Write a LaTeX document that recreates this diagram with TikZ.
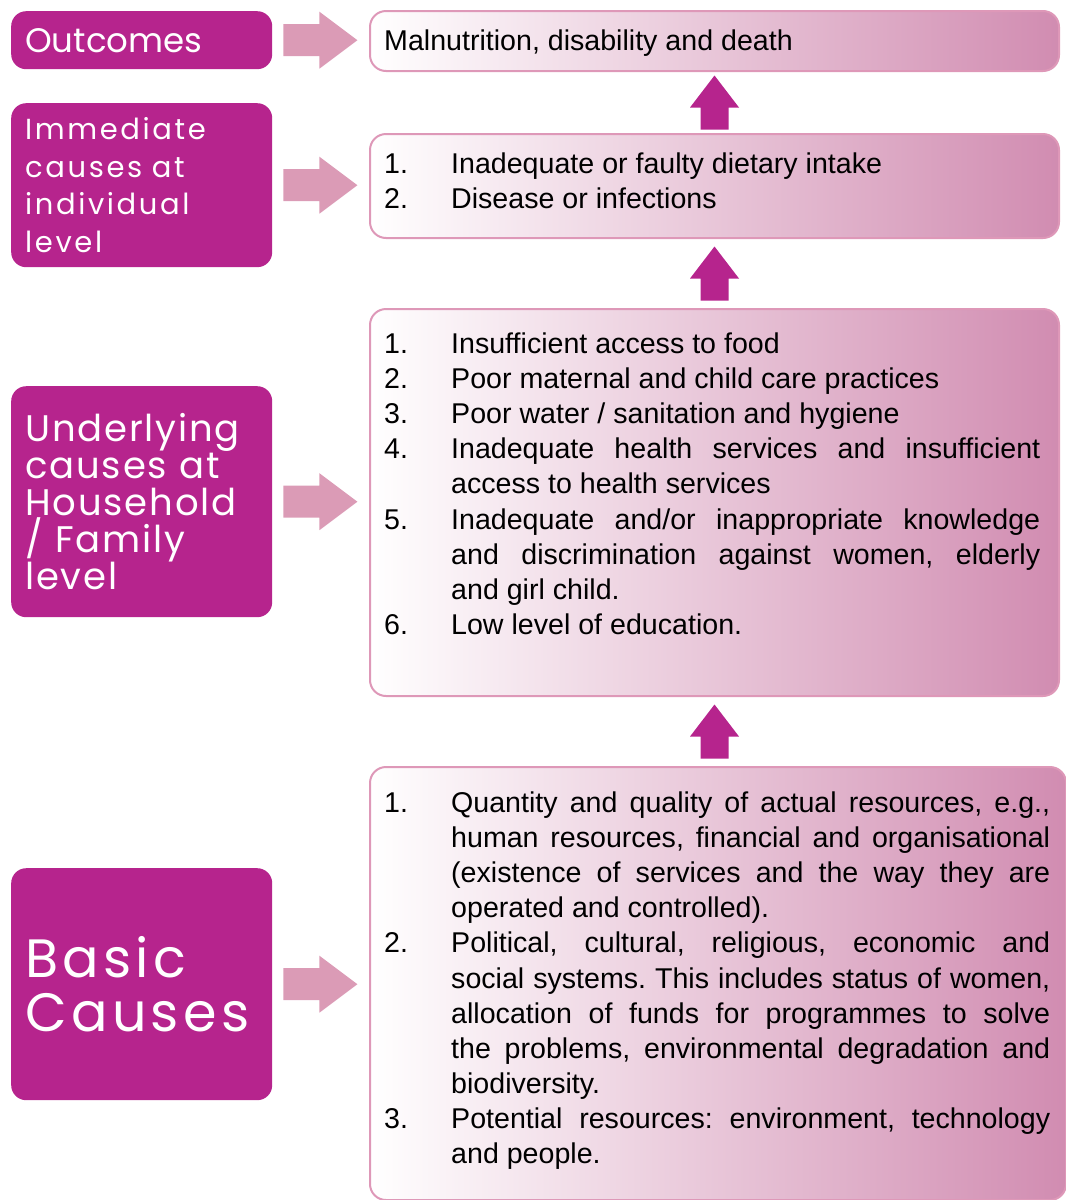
\documentclass[tikz,border=0pt]{standalone}
\usepackage{fontspec}
\setmainfont{Liberation Sans}
\newfontfamily\labelfont{Poppins}
\usetikzlibrary{calc}

\definecolor{labmag}{RGB}{182,36,141}
\definecolor{sidepink}{RGB}{219,155,182}
\definecolor{edgepink}{RGB}{222,152,184}
\definecolor{shadepink}{RGB}{209,140,177}

\newcommand{\causeitem}[2]{\hangindent=67pt\hangafter=1\noindent\makebox[67pt][l]{#1}#2\par}

\tikzset{
  labelbox/.style={fill=labmag, rounded corners=15pt, text=white, anchor=north west,
    text width=233pt, inner sep=14pt, align=left, font=\labelfont},
  listbox/.style={draw=edgepink, line width=2pt, rounded corners=16pt, anchor=north west,
    left color=white, right color=shadepink, minimum width=689pt, inner sep=0pt},
  listtext/.style={anchor=north west, inner sep=0pt, text width=656pt, align=justify,
    font=\fontsize{28.6}{35.1}\selectfont\frenchspacing},
  uparrow/.pic={\fill[labmag] (-14,27) -- (14,27) -- (14,5) -- (24.5,5) -- (0,-27) -- (-24.5,5) -- (-14,5) -- cycle;},
  sidearrow/.pic={\fill[sidepink] (0,-16) -- (36,-16) -- (36,-28.5) -- (74,0) -- (36,28.5) -- (36,16) -- (0,16) -- cycle;}
}

\begin{document}
\begin{tikzpicture}[x=1pt, y=-1pt]
\useasboundingbox (0,0) rectangle (1066,1200);
\clip (0,0) rectangle (1066,1200);

% left column
\node[labelbox, minimum height=58pt, font=\labelfont\fontsize{34}{37}\selectfont] (outlab) at (11,11) {Outcomes};
\node[labelbox, minimum height=164pt, font=\labelfont\addfontfeatures{LetterSpace=9}\fontsize{29}{37.5}\selectfont] (immlab) at (11,103) {Immediate\\ causes at\\ individual\\ level};
\node[labelbox, minimum height=231pt, font=\labelfont\addfontfeatures{LetterSpace=5}\fontsize{37}{37}\selectfont] (undlab) at (11,386) {Underlying\\ causes at\\ Household\\ / Family\\ level};
\node[labelbox, minimum height=232pt, font=\labelfont\addfontfeatures{LetterSpace=8}\fontsize{54}{54}\selectfont] (baslab) at (11,868) {Basic\\ Causes};

% right column
\node[listbox, minimum height=60pt] (malbox) at (369,10) {};
\node[listbox, minimum height=104pt] (immbox) at (369,133) {};
\node[listbox, minimum height=387pt] (undbox) at (369,308) {};
\node[listbox, minimum width=696pt, minimum height=433pt] (basbox) at (369,766) {};

\node[anchor=base west, inner sep=0pt, font=\fontsize{28.6}{35.1}\selectfont] (maltext) at ($(malbox.west)+(15,9)$) {Malnutrition, disability and death};
\node[listtext] (immtext) at ($(immbox.north west)+(15,19.6)$) {%
\causeitem{1.}{Inadequate or faulty dietary intake}
\causeitem{2.}{Disease or infections}};
\node[listtext] (undtext) at ($(undbox.north west)+(15,24.6)$) {%
\causeitem{1.}{Insufficient access to food}
\causeitem{2.}{Poor maternal and child care practices}
\causeitem{3.}{Poor water / sanitation and hygiene}
\causeitem{4.}{Inadequate health services and insufficient\linebreak access to health services}
\causeitem{5.}{Inadequate and/or inappropriate knowledge\linebreak and discrimination against women, elderly\linebreak and girl child.}
\causeitem{6.}{Low level of education.}};
\node[listtext, text width=666pt] (bastext) at ($(basbox.north west)+(15,25.6)$) {%
\causeitem{1.}{Quantity and quality of actual resources, e.g.,\linebreak human resources, financial and organisational\linebreak (existence of services and the way they are\linebreak operated and controlled).}
\causeitem{2.}{Political, cultural, religious, economic and\linebreak social systems. This includes status of women,\linebreak allocation of funds for programmes to solve\linebreak the problems, environmental degradation and\linebreak biodiversity.}
\causeitem{3.}{Potential resources: environment, technology\linebreak and people.}};

% arrows
\pic at ($(outlab.east)+(11,0)$) {sidearrow};
\pic at ($(immlab.east)+(11,0)$) {sidearrow};
\pic at ($(undlab.east)+(11,0)$) {sidearrow};
\pic at ($(baslab.east)+(11,0)$) {sidearrow};
\pic at ($(malbox.south)!.5!(immbox.north)$) {uparrow};
\pic at ($(immbox.south)!.5!(undbox.north)$) {uparrow};
\pic at ($(undbox.south)!.5!(undbox.south |- basbox.north)$) {uparrow};
\end{tikzpicture}
\end{document}
